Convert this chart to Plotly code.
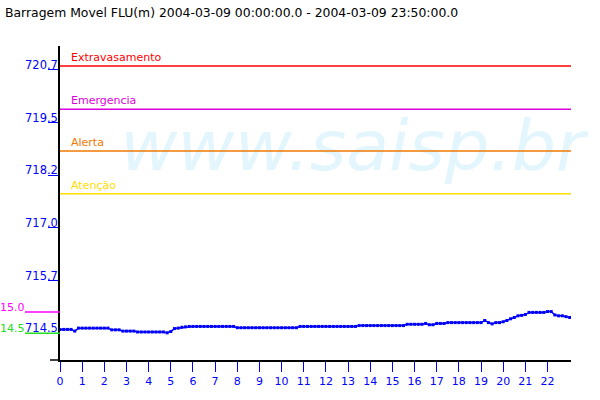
import plotly.graph_objects as go

title_text = "Barragem Movel FLU(m) 2004-03-09 00:00:00.0 - 2004-03-09 23:50:00.0"

# water level readings every 10 minutes (m)
levels = [
    714.59, 714.59, 714.59, 714.59, 714.55, 714.62,   # 0h
    714.62, 714.62, 714.62, 714.62, 714.62, 714.62,   # 1h
    714.62, 714.62, 714.58, 714.58, 714.58, 714.55,   # 2h
    714.55, 714.55, 714.55, 714.53, 714.53, 714.53,   # 3h
    714.53, 714.53, 714.53, 714.53, 714.53, 714.51,   # 4h
    714.54, 714.61, 714.62, 714.64, 714.65, 714.66,   # 5h
    714.66, 714.66, 714.66, 714.66, 714.66, 714.66,   # 6h
    714.66, 714.66, 714.66, 714.66, 714.66, 714.66,   # 7h
    714.63, 714.63, 714.63, 714.63, 714.63, 714.63,   # 8h
    714.63, 714.63, 714.63, 714.63, 714.63, 714.63,   # 9h
    714.63, 714.63, 714.63, 714.63, 714.63, 714.66,   # 10h
    714.66, 714.66, 714.66, 714.66, 714.66, 714.66,   # 11h
    714.66, 714.66, 714.66, 714.66, 714.66, 714.66,   # 12h
    714.66, 714.66, 714.66, 714.68, 714.68, 714.68,   # 13h
    714.68, 714.68, 714.68, 714.68, 714.68, 714.68,   # 14h
    714.68, 714.68, 714.68, 714.68, 714.71, 714.71,   # 15h
    714.71, 714.71, 714.71, 714.73, 714.70, 714.70,   # 16h
    714.73, 714.73, 714.73, 714.75, 714.75, 714.75,   # 17h
    714.75, 714.75, 714.75, 714.75, 714.75, 714.75,   # 18h
    714.75, 714.80, 714.75, 714.72, 714.75, 714.75,   # 19h
    714.77, 714.80, 714.84, 714.87, 714.91, 714.92,   # 20h
    714.94, 714.99, 714.99, 714.99, 714.99, 714.99,   # 21h
    715.01, 715.01, 714.93, 714.91, 714.91, 714.89,   # 22h
    714.87,                                           # 23h
]
hours = [i / 6 for i in range(len(levels))]

x_ticks = list(range(0, 23))
y_tick_vals = [714.5, 715.74, 716.98, 718.22, 719.46, 720.7]
y_tick_text = ["714.5", "715.7", "717.0", "718.2", "719.5", "720.7"]

ref_names = ["Extravasamento", "Emergencia", "Alerta", "Atenção"]
ref_levels = [720.79, 719.77, 718.79, 717.78]
ref_colors = ["#ff0000", "#dd00dd", "#f07800", "#ffdd00"]

side_labels = ["15.0", "14.5"]
side_levels = [715.0, 714.5]
side_colors = ["#ff00ff", "#22dd22"]

X_RANGE = [0, 23.06]
Y_RANGE = [713.87, 721.26]
PLOT_W = 511

fig = go.Figure()

# watermark
fig.add_trace(go.Scatter(
    x=[13.2], y=[718.76], mode="text", text=["www.saisp.br"],
    textfont=dict(family="DejaVu Sans", size=70, color="#e3f5fd", style="italic"),
    hoverinfo="skip", showlegend=False, cliponaxis=False))

fig.add_trace(go.Scatter(
    x=hours, y=levels, mode="lines+markers",
    line=dict(color="#0000ff", width=1.5),
    marker=dict(symbol="square", size=3, color="#0000ff"),
    showlegend=False))

shapes = []
annotations = []
for name, lvl, col in zip(ref_names, ref_levels, ref_colors):
    shapes.append(dict(type="line", xref="paper", yref="y", x0=0, x1=1, y0=lvl, y1=lvl,
                       line=dict(color=col, width=1.5)))
    annotations.append(dict(xref="paper", yref="y", x=9 / PLOT_W, y=lvl, text=name,
                            showarrow=False, xanchor="left", yanchor="bottom", yshift=0,
                            font=dict(family="DejaVu Sans", size=11, color=col)))

for lab, lvl, col in zip(side_labels, side_levels, side_colors):
    shapes.append(dict(type="line", xref="paper", yref="y", x0=-35 / PLOT_W, x1=0, y0=lvl, y1=lvl,
                       line=dict(color=col, width=1.5)))
    annotations.append(dict(xref="paper", yref="y", x=-62 / PLOT_W, y=lvl, text=lab,
                            showarrow=False, xanchor="left", yanchor="bottom", yshift=-4,
                            font=dict(family="DejaVu Sans", size=11, color=col)))

# x-axis line extension to the left
shapes.append(dict(type="line", xref="paper", yref="paper", x0=-10 / PLOT_W, x1=0, y0=0, y1=0,
                   line=dict(color="black", width=1.5)))

annotations.append(dict(xref="paper", yref="paper", x=-57 / PLOT_W, y=1, yshift=46 - 12,
                        text=title_text, showarrow=False, xanchor="left", yanchor="middle",
                        font=dict(family="DejaVu Sans", size=12.4, color="black")))

fig.update_layout(
    width=600, height=400,
    margin=dict(l=60, r=29, t=46, b=40),
    paper_bgcolor="white", plot_bgcolor="white",
    shapes=shapes, annotations=annotations,
    xaxis=dict(range=X_RANGE, tickvals=x_ticks, ticktext=[str(t) for t in x_ticks],
               showgrid=False, zeroline=False, showline=True, linecolor="black", linewidth=1.5,
               ticks="outside", ticklen=10, tickcolor="#0000ff", tickwidth=1,
               tickfont=dict(family="DejaVu Sans", size=11, color="#0000ff")),
    yaxis=dict(range=Y_RANGE, tickvals=y_tick_vals, ticktext=y_tick_text,
               showgrid=False, zeroline=False, showline=True, linecolor="black", linewidth=1.5,
               ticks="outside", ticklen=10, tickcolor="#0000ff", tickwidth=1,
               ticklabelstandoff=-12, ticklabelshift=-5,
               tickfont=dict(family="DejaVu Sans", size=11.5, color="#0000ff")),
)

fig.write_html("out.html", config={"displayModeBar": False},
               post_script="document.body.style.margin='0';")
